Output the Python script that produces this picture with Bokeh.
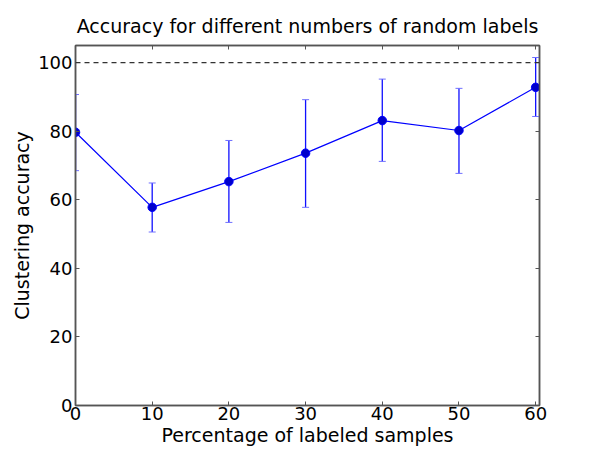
from bokeh.plotting import figure
from bokeh.models import ColumnDataSource, Whisker, TeeHead, LinearAxis, Range1d, FixedTicker, Span, CustomJSTickFormatter
from bokeh.embed import file_html
from bokeh.resources import INLINE

# data
pct = [0, 10, 20, 30, 40, 50, 60]
acc = [79.7, 57.8, 65.3, 73.6, 83.1, 80.2, 92.8]
acc_upper = [90.7, 64.9, 77.3, 89.2, 95.2, 92.5, 101.5]
acc_lower = [68.5, 50.6, 53.4, 57.8, 71.2, 67.7, 84.3]
x_ticks = [0, 10, 20, 30, 40, 50, 60]
y_ticks = [0, 20, 40, 60, 80, 100]
reference_level = 100

FONT = "DejaVu Sans"
FRAME = "#555555"

src = ColumnDataSource(dict(x=pct, y=acc, upper=acc_upper, lower=acc_lower))

p = figure(width=584, height=445, frame_width=464, frame_height=360,
           output_backend="svg", toolbar_location=None,
           x_range=Range1d(0, 60.5), y_range=Range1d(0, 105),
           min_border_left=75, min_border_right=45, min_border_top=45, min_border_bottom=30,
           title="Accuracy for different numbers of random labels")
p.title.text_font = FONT
p.title.text_font_size = "19px"
p.title.text_font_style = "normal"
p.title.align = "center"
p.title.text_color = "black"
p.title.standoff = 4

p.xgrid.visible = False
p.ygrid.visible = False
p.outline_line_color = FRAME
p.outline_line_width = 1.5

def style(ax, ticks, show_labels=True):
    ax.ticker = FixedTicker(ticks=ticks)
    ax.minor_tick_line_color = None
    ax.major_tick_in = 4
    ax.major_tick_out = 0
    ax.major_tick_line_color = FRAME
    ax.axis_line_color = FRAME
    ax.axis_line_width = 1.5
    ax.major_label_text_font = FONT
    ax.major_label_text_color = "black"
    ax.major_label_text_font_size = "18px"
    if not show_labels:
        ax.formatter = CustomJSTickFormatter(code="return ''")
        ax.major_label_standoff = 0
    ax.axis_label_text_font = FONT
    ax.axis_label_text_font_size = "19px"
    ax.axis_label_text_font_style = "normal"
    ax.axis_label_text_color = "black"

style(p.xaxis[0], x_ticks)
style(p.yaxis[0], y_ticks)
p.xaxis[0].axis_label = "Percentage of labeled samples"
p.yaxis[0].axis_label = "Clustering accuracy"
p.xaxis[0].major_label_standoff = 1
p.xaxis[0].axis_label_standoff = 1
p.yaxis[0].major_label_standoff = 3
p.yaxis[0].axis_label_standoff = 2

top = LinearAxis()
style(top, x_ticks, show_labels=False)
p.add_layout(top, "above")

# invisible spacer axis to lift the title a little
spacer = LinearAxis()
style(spacer, x_ticks, show_labels=False)
spacer.major_tick_in = 0
spacer.major_tick_out = 7
spacer.major_tick_line_color = None
spacer.axis_line_color = None
p.add_layout(spacer, "above")

right = LinearAxis()
style(right, y_ticks, show_labels=False)
p.add_layout(right, "right")

p.add_layout(Span(location=reference_level, dimension="width", line_color="#333333",
                  line_dash="5 4", line_width=1.3))

wh = Whisker(source=src, base="x", upper="upper", lower="lower",
             line_color="#1010ff", line_width=1.3,
             upper_head=TeeHead(size=7, line_color="#7070ff", line_width=1),
             lower_head=TeeHead(size=7, line_color="#7070ff", line_width=1))
p.add_layout(wh)

p.line("x", "y", source=src, line_color="#0000ff", line_width=1.2)
p.scatter("x", "y", source=src, size=8.5, fill_color="#0000cc", line_color="#0000ff")

open("out.html", "w").write(file_html(p, INLINE))
